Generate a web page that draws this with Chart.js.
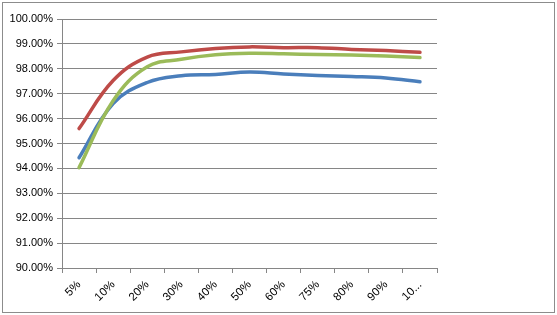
<!DOCTYPE html>
<html>
<head>
<meta charset="utf-8">
<script src="https://cdn.jsdelivr.net/npm/chart.js@4/dist/chart.umd.min.js"></script>
<style>
html,body{margin:0;padding:0;background:#fff;}
#wrap{position:relative;width:557px;height:315px;}
</style>
</head>
<body>
<div id="wrap"><canvas id="c" width="557" height="315"></canvas></div>
<script>
const categories = ['5%','10%','20%','30%','40%','50%','60%','75%','80%','90%','100%'];
const seriesRed   = [95.60, 97.53, 98.47, 98.68, 98.82, 98.88, 98.85, 98.85, 98.78, 98.73, 98.66];
const seriesGreen = [94.03, 96.72, 98.08, 98.38, 98.56, 98.62, 98.60, 98.57, 98.55, 98.51, 98.45];
const seriesBlue  = [94.43, 96.60, 97.45, 97.72, 97.77, 97.87, 97.79, 97.73, 97.69, 97.63, 97.48];
const yTicks = [90,91,92,93,94,95,96,97,98,99,100];

const borderPlugin = {
  id: 'outerBorder',
  afterDraw(chart) {
    const ctx = chart.ctx;
    ctx.save();
    ctx.strokeStyle = '#8c8c8c';
    ctx.lineWidth = 1;
    ctx.strokeRect(2.5, 2.5, 552, 310);
    ctx.restore();
  }
};

const common = {fill:false, borderWidth:3.5, pointRadius:0, tension:0.4, borderCapStyle:'round'};

new Chart(document.getElementById('c'), {
  type: 'line',
  data: {
    labels: categories,
    datasets: [
      Object.assign({label:'Series 1', data: seriesRed,   borderColor:'#BE4B48'}, common),
      Object.assign({label:'Series 2', data: seriesGreen, borderColor:'#9BBB59'}, common),
      Object.assign({label:'Series 3', data: seriesBlue,  borderColor:'#4A7EBB'}, common)
    ]
  },
  options: {
    responsive: false,
    animation: false,
    devicePixelRatio: 1,
    layout: {padding: {left: 0, right: 120, top: 19, bottom: 0}},
    plugins: {legend: {display: false}, tooltip: {enabled: false}},
    scales: {
      x: {
        offset: true,
        grid: {offset: true, drawOnChartArea: false, drawTicks: true, tickLength: 5, color: '#868686'},
        border: {color: '#868686', width: 1},
        ticks: {
          color: '#000',
          font: {family: 'Liberation Sans', size: 11.5},
          minRotation: 45, maxRotation: 45, padding: 5, autoSkip: false,
          callback: function(v, i) { const l = categories[i]; return l.length > 3 ? l.slice(0,2) + '...' : l; }
        },
        afterFit: function(s) { s.height = 47; }
      },
      y: {
        min: 90, max: 100,
        afterBuildTicks: function(s) { s.ticks = yTicks.map(v => ({value: v})); },
        grid: {color: '#868686', tickLength: 5, drawTicks: true},
        border: {color: '#868686', width: 1},
        ticks: {
          color: '#000',
          font: {family: 'Liberation Sans', size: 11},
          padding: 4,
          callback: v => v.toFixed(2) + '%'
        },
        afterFit: function(s) { s.width = 62; }
      }
    }
  },
  plugins: [borderPlugin]
});
</script>
</body>
</html>
